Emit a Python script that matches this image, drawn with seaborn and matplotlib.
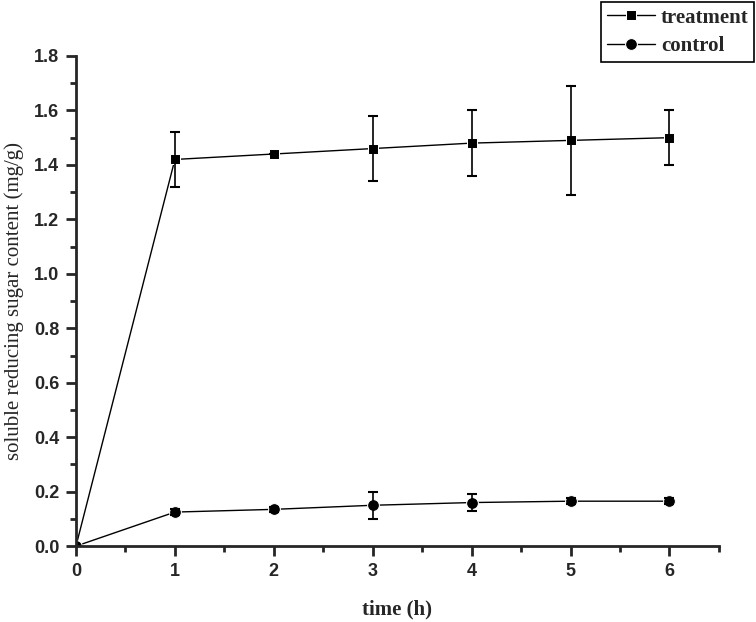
import pandas as pd
import seaborn as sns
import matplotlib.pyplot as plt
from matplotlib.ticker import MultipleLocator

# values
time_h = [0, 1, 2, 3, 4, 5, 6]
treatment = [0.0, 1.42, 1.44, 1.46, 1.48, 1.49, 1.50]
treatment_err = [0.0, 0.10, 0.0, 0.12, 0.12, 0.20, 0.10]
control = [0.0, 0.125, 0.135, 0.15, 0.16, 0.165, 0.165]
control_err = [0.0, 0.01, 0.01, 0.05, 0.03, 0.01, 0.01]

treat_df = pd.DataFrame({'time': time_h, 'value': treatment})
ctrl_df = pd.DataFrame({'time': time_h, 'value': control})

sns.set_style('ticks')
plt.rcParams['font.family'] = ['Liberation Sans', 'DejaVu Sans']

fig = plt.figure(figsize=(7.56, 6.22), dpi=100)
ax = fig.add_axes([0.1005, 0.122, 0.8505, 0.788])

sns.lineplot(data=treat_df, x='time', y='value', marker='s', markersize=7.5, color='black',
             linewidth=1, ax=ax, label='treatment')
sns.lineplot(data=ctrl_df, x='time', y='value', marker='o', markersize=8.5, color='black',
             linewidth=1, ax=ax, label='control')
ax.errorbar(time_h, treatment, yerr=treatment_err, fmt='none', ecolor='black', elinewidth=1.2, capsize=3.6, capthick=1.5)
ax.errorbar(time_h, control, yerr=control_err, fmt='none', ecolor='black', elinewidth=1.2, capsize=3.6, capthick=1.5)

ax.set_xlim(0, 6.5)
ax.set_ylim(0, 1.8)
ax.xaxis.set_major_locator(MultipleLocator(1))
ax.xaxis.set_minor_locator(MultipleLocator(0.5))
ax.yaxis.set_major_locator(MultipleLocator(0.2))
ax.yaxis.set_minor_locator(MultipleLocator(0.1))
ax.set_xticks([0, 1, 2, 3, 4, 5, 6])
ax.set_xticklabels(['0', '1', '2', '3', '4', '5', '6'])
ax.yaxis.set_major_formatter(plt.FuncFormatter(lambda v, p: f'{v:.1f}'))
ax.tick_params(which='major', direction='out', length=7, width=2, labelsize=13, pad=5)
ax.tick_params(which='minor', direction='out', length=4, width=2)
for lbl in ax.get_xticklabels() + ax.get_yticklabels():
    lbl.set_fontweight('bold')

sns.despine(ax=ax)
ax.spines['left'].set_linewidth(2)
ax.spines['bottom'].set_linewidth(2)
ax.spines['left'].set_bounds(0, 1.8)
ax.spines['bottom'].set_bounds(0, 6.5)

ax.set_xlabel('time (h)', family='Liberation Serif', fontsize=15, fontweight='bold')
ax.set_ylabel('soluble reducing sugar content (mg/g)', family='Liberation Serif', fontsize=15)
ax.xaxis.set_label_coords(0.5, -0.108)
ax.yaxis.set_label_coords(-0.081, 0.5)

handles, labels = ax.get_legend_handles_labels()
ax.legend(handles, labels, loc='upper right', bbox_to_anchor=(0.998, 0.997), bbox_transform=fig.transFigure,
          frameon=True, fancybox=False, edgecolor='black', framealpha=1, borderpad=0.28, handlelength=2.3,
          handletextpad=0.3, labelspacing=0.42, borderaxespad=0,
          prop={'family': 'Liberation Serif', 'size': 15, 'weight': 'bold'})
ax.get_legend().get_frame().set_linewidth(1.2)

plt.savefig('out.png', dpi=100)
